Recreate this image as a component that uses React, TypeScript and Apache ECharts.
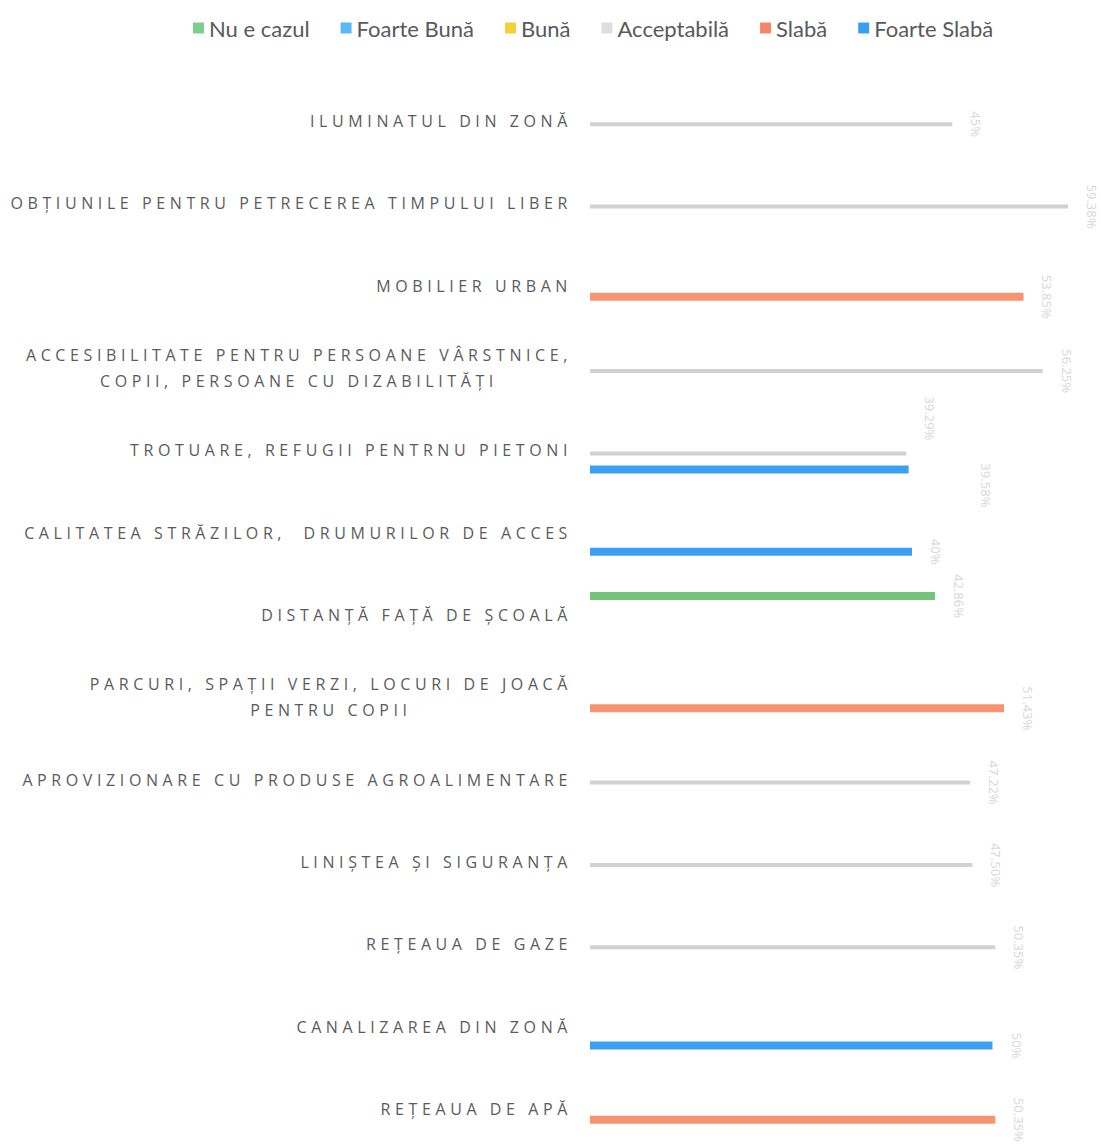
import React, { useEffect, useRef } from 'react';
import * as echarts from 'echarts';

const categories: string[] = [
  'ILUMINATUL DIN ZONĂ',
  'OBȚIUNILE PENTRU PETRECEREA TIMPULUI LIBER',
  'MOBILIER URBAN',
  'ACCESIBILITATE PENTRU PERSOANE VÂRSTNICE,\nCOPII, PERSOANE CU DIZABILITĂȚI',
  'TROTUARE, REFUGII PENTRNU PIETONI',
  'CALITATEA STRĂZILOR,  DRUMURILOR DE ACCES',
  'DISTANȚĂ FAȚĂ DE ȘCOALĂ',
  'PARCURI, SPAȚII VERZI, LOCURI DE JOACĂ\nPENTRU COPII',
  'APROVIZIONARE CU PRODUSE AGROALIMENTARE',
  'LINIȘTEA ȘI SIGURANȚA',
  'REȚEAUA DE GAZE',
  'CANALIZAREA DIN ZONĂ',
  'REȚEAUA DE APĂ',
];

const seriesNames: string[] = ['Nu e cazul', 'Foarte Bună', 'Bună', 'Acceptabilă', 'Slabă', 'Foarte Slabă'];

const nuECazul: (number | null)[] = [null, null, null, null, null, null, 42.86, null, null, null, null, null, null];
const foarteBuna: (number | null)[] = [null, null, null, null, null, null, null, null, null, null, null, null, null];
const buna: (number | null)[] = [null, null, null, null, null, null, null, null, null, null, null, null, null];
const acceptabila: (number | null)[] = [45, 59.38, null, 56.25, 39.29, null, null, null, 47.22, 47.5, 50.35, null, null];
const slaba: (number | null)[] = [null, null, 53.85, null, null, null, null, 51.43, null, null, null, null, 50.35];
const foarteSlaba: (number | null)[] = [null, null, null, null, 39.58, 40, null, null, null, null, null, 50, null];

const seriesValues = [nuECazul, foarteBuna, buna, acceptabila, slaba, foarteSlaba];
const legendColors = ['#7dcf8f', '#5ab8f5', '#f5cf3a', '#dedede', '#f4876a', '#3a9ff0'];
const barColors = ['#72c47a', '#5ab8f5', '#f5cf3a', '#d2d2d2', '#f8936f', '#3d9ff0'];
const barWidths = [8, 8, 8, 4, 8, 8];

const AXIS_FONT = 'Open Sans';
const AXIS_SIZE = 16;
const LETTER_SPACING = 4.6;

function spacedWidth(line: string): number {
  const c = document.createElement('canvas').getContext('2d');
  if (!c) return line.length * 14;
  c.font = `${AXIS_SIZE}px "${AXIS_FONT}"`;
  return c.measureText(line).width + line.length * LETTER_SPACING;
}

export default function App() {
  const ref = useRef<HTMLDivElement>(null);

  useEffect(() => {
    if (!ref.current) return;
    const chart = echarts.init(ref.current, null, { renderer: 'svg' });

    const yData = categories.map((cat) => {
      if (cat.indexOf('\n') < 0) return cat;
      const w = Math.max(...cat.split('\n').map(spacedWidth));
      return { value: cat, textStyle: { align: 'center', padding: [0, w, 0, 0] } };
    });

    const fmt = (p: any) => {
      const v = p.value;
      if (v == null) return '';
      return Number.isInteger(v) ? `${v}%` : `${v.toFixed(2)}%`;
    };

    // label nudges (in the rotated label frame) for the crowded TROTUARE row
    const labelOffsets: Record<string, [number, number]> = {
      'Acceptabilă-4': [-35, 0],
      'Foarte Slabă-4': [16, -53],
    };

    const barSeries = seriesNames.map((n, i) => ({
      name: n,
      type: 'bar',
      barWidth: barWidths[i],
      barGap: '0%',
      itemStyle: { color: barColors[i] },
      label: {
        show: true,
        position: 'right',
        distance: 24,
        rotate: -90,
        align: 'center',
        verticalAlign: 'middle',
        color: '#d9d9d9',
        fontFamily: 'Noto Sans',
        fontSize: 13,
        formatter: fmt,
      },
      data: seriesValues[i].map((v, j) => {
        const off = labelOffsets[`${n}-${j}`];
        return off ? { value: v, label: { offset: off } } : v;
      }),
    }));

    // thin empty spacer that keeps the slot between the grey and orange bars
    const spacer = {
      name: 'spacer',
      type: 'bar',
      barWidth: 2,
      barGap: '0%',
      silent: true,
      data: categories.map(() => null),
    };

    const series = [...barSeries.slice(0, 4), spacer, ...barSeries.slice(4)];

    chart.setOption({
      animation: false,
      backgroundColor: '#ffffff',
      legend: {
        left: 188,
        top: 12,
        icon: 'rect',
        itemWidth: 11,
        itemHeight: 11,
        itemGap: 31,
        textStyle: { fontFamily: 'Lato', fontSize: 22, color: '#595959' },
        data: seriesNames.map((n, i) => ({ name: n, itemStyle: { color: legendColors[i] } })),
      },
      grid: { left: 590, right: 28, top: 80, height: 1070, outerBoundsMode: 'none' },
      xAxis: { type: 'value', min: 0, max: 60, show: false },
      yAxis: {
        type: 'category',
        inverse: true,
        data: yData,
        axisLine: { show: false },
        axisTick: { show: false },
        splitLine: { show: false },
        axisLabel: {
          margin: 18,
          color: '#5b5b5b',
          fontFamily: AXIS_FONT,
          fontSize: AXIS_SIZE,
          lineHeight: 26,
          interval: 0,
        },
      },
      series,
    });

    return () => chart.dispose();
  }, []);

  return (
    <div style={{ position: 'fixed', left: 0, top: 0, width: 1101, height: 1145, overflow: 'hidden', background: '#fff' }}>
      <style>{`.chartbox text[style*="Open Sans"]{letter-spacing:${LETTER_SPACING}px;}`}</style>
      <div className="chartbox" ref={ref} style={{ width: 1101, height: 1145 }} />
    </div>
  );
}
